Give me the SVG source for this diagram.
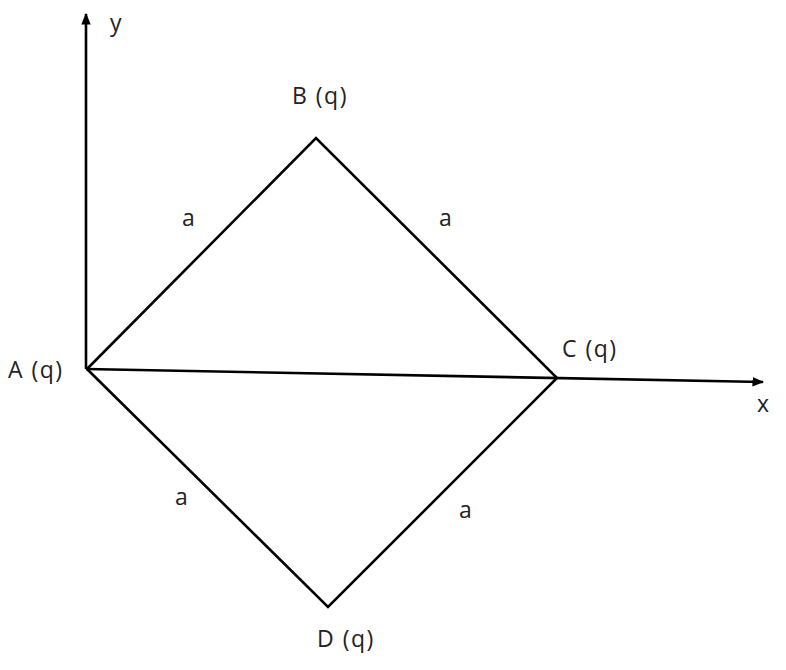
<svg xmlns="http://www.w3.org/2000/svg" width="786" height="670" viewBox="0 0 786 670">
<defs>
<marker id="arr" viewBox="0 0 10 10" refX="9" refY="5" markerWidth="4.5" markerHeight="4.5" orient="auto" markerUnits="strokeWidth">
<path d="M0,1 L10,5 L0,9 z" fill="#000"/>
</marker>
<style>
.ln{stroke:#000;stroke-width:2.6;fill:none;stroke-linejoin:miter}
.t{font-family:"Open Sans","Liberation Sans",Arial,sans-serif;font-size:23px;letter-spacing:1.5px;fill:#222}
</style>
</defs>
<rect width="786" height="670" fill="#fff"/>
<g id="connectors">
<line class="ln" x1="86" y1="369" x2="86" y2="14" marker-end="url(#arr)"/>
<line class="ln" x1="86" y1="369" x2="763" y2="382" marker-end="url(#arr)"/>
<polyline class="ln" points="87,369 316,138 557,378 328,607 87,369"/>
</g>
<g id="axis-y"><text class="t" x="110" y="31">y</text></g>
<g id="axis-x"><text class="t" x="757" y="412">x</text></g>
<g id="A"><text class="t" x="8" y="378">A (q)</text></g>
<g id="B"><text class="t" x="292" y="104">B (q)</text></g>
<g id="C"><text class="t" x="562" y="357">C (q)</text></g>
<g id="D"><text class="t" x="317" y="647">D (q)</text></g>
<g id="edge-labels">
<text class="t" x="182" y="226">a</text>
<text class="t" x="439" y="226">a</text>
<text class="t" x="175" y="505">a</text>
<text class="t" x="459" y="518">a</text>
</g>
</svg>
